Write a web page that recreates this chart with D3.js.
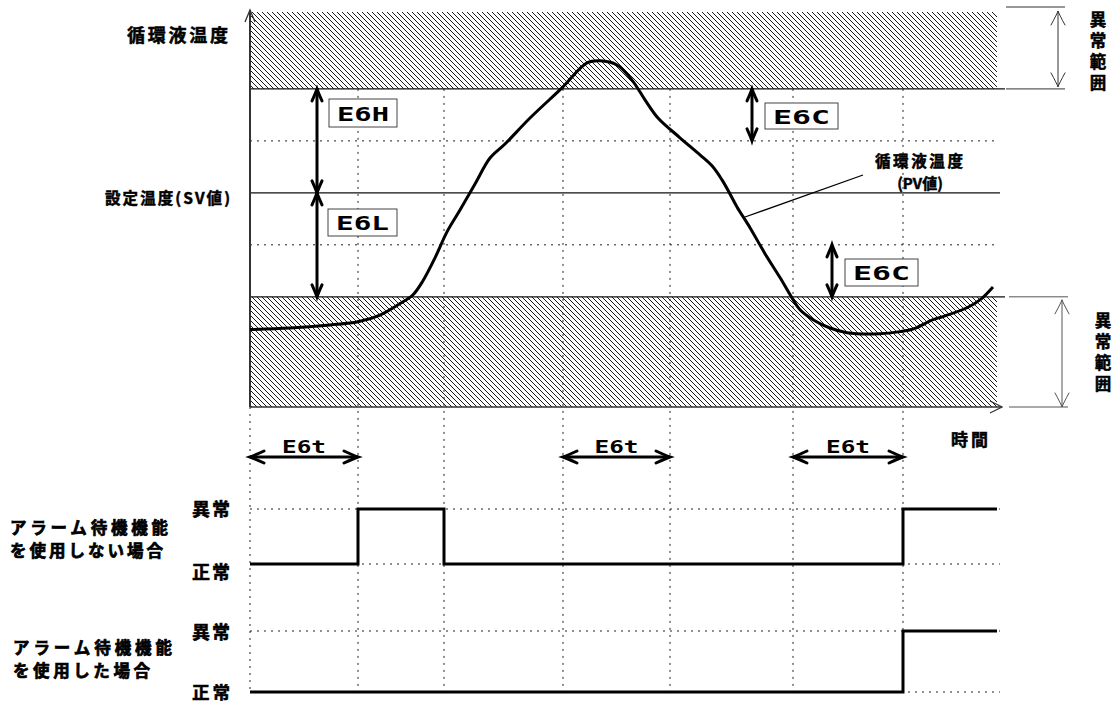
<!DOCTYPE html>
<html lang="ja">
<head>
<meta charset="utf-8">
<script src="https://cdn.jsdelivr.net/npm/d3@7/dist/d3.min.js"></script>
<style>
  html, body { margin: 0; padding: 0; background: #fff; }
  svg { display: block; }
  .jp { font-family: "Noto Sans CJK JP", "Noto Sans", sans-serif; font-weight: 700; fill: #000; stroke: #000; stroke-width: 0.5px; }
  .seg { font-family: "DejaVu Sans Mono", "Liberation Mono", monospace; font-weight: 700; fill: #000; }
</style>
</head>
<body>
<svg id="chart" width="1117" height="704"></svg>
<script>
// ---- temperature levels (°C) ----
const tempRange = [20.88, 28.48];          // bottom / top of the temperature axis
const setValue = 25;                        // SV
const upperLimit = 27;                      // SV + E6H
const lowerLimit = 23;                      // SV - E6L
const recoverLevels = [26, 24];             // E6C hysteresis levels

// ---- time axis (s) ----
const timeRange = [0, 750];
const timeEnd = 747;
const timeGrid = [0, 108, 194, 313, 420, 543, 653];
const standbyWindows = [[0, 108], [313, 420], [543, 653]];   // E6t

// ---- circulating fluid temperature (PV) ----
const pvTime = [0, 40, 80, 108, 130, 150, 163, 173, 185, 197, 210, 225, 240, 255, 280, 312,
  337, 350, 367, 382, 395, 408, 430, 450, 462, 472, 480, 487, 500, 515, 530, 542, 550, 563,
  580, 597, 630, 650, 663, 683, 693, 717, 730, 743];
const pvTemp = [22.37, 22.40, 22.46, 22.52, 22.65, 22.87, 23.04, 23.31, 23.75, 24.25, 24.67,
  25.17, 25.67, 25.94, 26.44, 27.02, 27.50, 27.54, 27.46, 27.17, 26.79, 26.44, 26.06, 25.73,
  25.52, 25.25, 24.98, 24.73, 24.33, 23.83, 23.37, 22.98, 22.75, 22.56, 22.40, 22.31, 22.29,
  22.33, 22.38, 22.56, 22.62, 22.79, 22.94, 23.19];

// ---- alarm output (0 = 正常, 1 = 異常) ----
const alarmNoStandbyTime = [0, 108, 194, 653];
const alarmNoStandbyState = [0, 1, 0, 1];
const alarmStandbyTime = [0, 653];
const alarmStandbyState = [0, 1];

const svg = d3.select("#chart");
const x = d3.scaleLinear().domain(timeRange).range([250, 1000]);
const y = d3.scaleLinear().domain(tempRange).range([407, 12]);

// ---- hatch pattern for the abnormal ranges ----
const defs = svg.append("defs");
defs.append("pattern")
  .attr("id", "hatch").attr("patternUnits", "userSpaceOnUse")
  .attr("width", 5).attr("height", 5)
  .append("path")
  .attr("d", "M0,0 L5,5 M-1,4 L1,6 M4,-1 L6,1")
  .attr("stroke", "#000").attr("stroke-width", 0.9);

const xEnd = x(timeEnd);
svg.append("rect").attr("x", x(0)).attr("y", y(tempRange[1]))
  .attr("width", xEnd - x(0)).attr("height", y(upperLimit) - y(tempRange[1]))
  .attr("fill", "url(#hatch)");
svg.append("rect").attr("x", x(0)).attr("y", y(lowerLimit))
  .attr("width", xEnd - x(0)).attr("height", y(tempRange[0]) - y(lowerLimit))
  .attr("fill", "url(#hatch)");

const dotted = "2,5";

// ---- vertical time grid ----
const rowY = { r1hi: 509, r1lo: 564, r2hi: 631, r2lo: 692 };
svg.append("g").selectAll("line").data(timeGrid.slice(1)).join("line")
  .attr("x1", d => x(d)).attr("x2", d => x(d))
  .attr("y1", y(upperLimit)).attr("y2", rowY.r2lo)
  .attr("stroke", "#222").attr("stroke-width", 1).attr("stroke-dasharray", dotted);
svg.append("line").attr("x1", x(0)).attr("x2", x(0))
  .attr("y1", y(tempRange[0])).attr("y2", rowY.r2lo)
  .attr("stroke", "#222").attr("stroke-width", 1).attr("stroke-dasharray", dotted);

// ---- horizontal temperature levels ----
svg.append("g").selectAll("line").data(recoverLevels).join("line")
  .attr("x1", x(0)).attr("x2", xEnd)
  .attr("y1", d => y(d)).attr("y2", d => y(d))
  .attr("stroke", "#222").attr("stroke-width", 1).attr("stroke-dasharray", dotted);
svg.append("g").selectAll("line").data([upperLimit, setValue, lowerLimit]).join("line")
  .attr("x1", x(0)).attr("x2", d => d === setValue ? x(timeEnd + 3) : x(timeEnd + 8))
  .attr("y1", d => y(d)).attr("y2", d => y(d))
  .attr("stroke", "#111").attr("stroke-width", 1.2);

// ---- axes ----
const axisColor = "#333";
svg.append("line").attr("x1", x(0)).attr("x2", x(0)).attr("y1", y(tempRange[0])).attr("y2", 10)
  .attr("stroke", axisColor).attr("stroke-width", 2);
svg.append("path").attr("d", `M${x(0) - 5},22 L${x(0)},10 L${x(0) + 5},22`)
  .attr("fill", "none").attr("stroke", axisColor).attr("stroke-width", 1.3);
svg.append("line").attr("x1", x(0)).attr("x2", 1002).attr("y1", y(tempRange[0])).attr("y2", y(tempRange[0]))
  .attr("stroke", axisColor).attr("stroke-width", 1.5);
svg.append("path").attr("d", `M990,${y(tempRange[0]) - 6} L1002,${y(tempRange[0])} L990,${y(tempRange[0]) + 6}`)
  .attr("fill", "none").attr("stroke", axisColor).attr("stroke-width", 1.3);

// ---- double arrow helpers ----
function vArrow(g, cx, y1, y2, w, lat, len, color) {
  g.append("line").attr("x1", cx).attr("x2", cx).attr("y1", y1).attr("y2", y2)
    .attr("stroke", color).attr("stroke-width", w);
  g.append("path").attr("d",
      `M${cx - lat},${y1 + len} Q${cx - 1},${y1 + 3} ${cx},${y1} Q${cx + 1},${y1 + 3} ${cx + lat},${y1 + len}` +
      `M${cx - lat},${y2 - len} Q${cx - 1},${y2 - 3} ${cx},${y2} Q${cx + 1},${y2 - 3} ${cx + lat},${y2 - len}`)
    .attr("fill", "none").attr("stroke", color).attr("stroke-width", w).attr("stroke-linecap", "round");
}
function hArrow(g, x1, x2, cy, w, lat, len, color) {
  g.append("line").attr("x1", x1).attr("x2", x2).attr("y1", cy).attr("y2", cy)
    .attr("stroke", color).attr("stroke-width", w);
  g.append("path").attr("d",
      `M${x1 + len},${cy - lat} Q${x1 + 3},${cy - 1} ${x1},${cy} Q${x1 + 3},${cy + 1} ${x1 + len},${cy + lat}` +
      `M${x2 - len},${cy - lat} Q${x2 - 3},${cy - 1} ${x2},${cy} Q${x2 - 3},${cy + 1} ${x2 - len},${cy + lat}`)
    .attr("fill", "none").attr("stroke", color).attr("stroke-width", w).attr("stroke-linecap", "round");
}
function boxLabel(g, bx, by, bw, bh, text) {
  g.append("rect").attr("x", bx).attr("y", by).attr("width", bw).attr("height", bh)
    .attr("fill", "#fff").attr("stroke", "#444").attr("stroke-width", 1);
  g.append("text").attr("class", "seg").attr("x", bx + 8).attr("y", by + bh / 2 + 7.5)
    .attr("font-size", 20).attr("textLength", bw - 16).attr("lengthAdjust", "spacingAndGlyphs")
    .text(text);
}

const ann = svg.append("g");
// E6H / E6L
vArrow(ann, 317, y(upperLimit), y(setValue), 3, 5, 12, "#000");
vArrow(ann, 317, y(setValue), y(lowerLimit), 3, 5, 12, "#000");
boxLabel(ann, 329, 99, 68, 28, "E6H");
boxLabel(ann, 328, 209, 69, 27, "E6L");
// E6C
vArrow(ann, 752, y(upperLimit), y(recoverLevels[0]), 3, 5, 12, "#000");
vArrow(ann, 832, y(recoverLevels[1]), y(lowerLimit), 3, 5, 12, "#000");
boxLabel(ann, 765, 103, 73, 26, "E6C");
boxLabel(ann, 845, 259, 73, 27, "E6C");

// ---- abnormal range brackets on the right ----
const rng = svg.append("g");
rng.append("line").attr("x1", 1006).attr("x2", 1065).attr("y1", 7).attr("y2", 7).attr("stroke", "#333");
rng.append("line").attr("x1", 1006).attr("x2", 1065).attr("y1", y(upperLimit)).attr("y2", y(upperLimit)).attr("stroke", "#333");
vArrow(rng, 1058, 11, y(upperLimit) - 2, 1, 7, 14, "#333");
rng.append("line").attr("x1", 1009).attr("x2", 1068).attr("y1", y(lowerLimit)).attr("y2", y(lowerLimit)).attr("stroke", "#555");
rng.append("line").attr("x1", 1009).attr("x2", 1068).attr("y1", y(tempRange[0])).attr("y2", y(tempRange[0])).attr("stroke", "#555");
vArrow(rng, 1062, y(lowerLimit) + 3, y(tempRange[0]), 1, 7, 14, "#555");

// ---- PV curve ----
const pv = pvTime.map((t, i) => [t, pvTemp[i]]);
svg.append("path").datum(pv)
  .attr("d", d3.line().x(d => x(d[0])).y(d => y(d[1])).curve(d3.curveCatmullRom.alpha(0.5)))
  .attr("fill", "none").attr("stroke", "#000").attr("stroke-width", 3).attr("stroke-linejoin", "round");

// leader line to the PV label
svg.append("line").attr("x1", 745).attr("y1", 217).attr("x2", 863).attr("y2", 175)
  .attr("stroke", "#000").attr("stroke-width", 1.3);

// ---- E6t standby windows ----
const tw = svg.append("g");
standbyWindows.forEach(([a, b]) => {
  hArrow(tw, x(a), x(b), 457, 3, 6, 14, "#000");
  tw.append("text").attr("class", "seg").attr("x", (x(a) + x(b)) / 2 - 22).attr("y", 453)
    .attr("font-size", 17).attr("textLength", 44).attr("lengthAdjust", "spacingAndGlyphs").text("E6t");
});

// ---- alarm output rows ----
function alarmRow(times, states, yHi, yLo) {
  const g = svg.append("g");
  [yHi, yLo].forEach(yy => g.append("line").attr("x1", x(0)).attr("x2", x(timeEnd + 3))
    .attr("y1", yy).attr("y2", yy).attr("stroke", "#222").attr("stroke-dasharray", dotted));
  const pts = times.map((t, i) => [t, states[i]]);
  pts.push([timeEnd, states[states.length - 1]]);
  g.append("path").datum(pts)
    .attr("d", d3.line().x(d => x(d[0])).y(d => d[1] ? yHi : yLo).curve(d3.curveStepAfter))
    .attr("fill", "none").attr("stroke", "#000").attr("stroke-width", 3);
}
alarmRow(alarmNoStandbyTime, alarmNoStandbyState, rowY.r1hi, rowY.r1lo);
alarmRow(alarmStandbyTime, alarmStandbyState, rowY.r2hi, rowY.r2lo);

// ---- text ----
function label(txt, xx, yy, size, len) {
  const t = svg.append("text").attr("class", "jp").attr("x", xx).attr("y", yy)
    .attr("font-size", size).text(txt);
  if (len) t.attr("textLength", len).attr("lengthAdjust", "spacing");
  return t;
}
label("循環液温度", 127, 42, 18, 101);
label("設定温度(SV値)", 105, 204, 15.5, 125);
label("循環液温度", 875, 167, 15.5, 88);
label("(PV値)", 920, 189, 15).attr("text-anchor", "middle");
label("時間", 951, 446, 17, 37);

label("アラーム待機機能", 10, 534, 16.5, 158).style("stroke-width", "0.7px");
label("を使用しない場合", 10, 557, 16.5, 153).style("stroke-width", "0.7px");
label("アラーム待機機能", 13, 654, 16.5, 159).style("stroke-width", "0.7px");
label("を使用した場合", 13, 677, 16.5, 137).style("stroke-width", "0.7px");
label("異常", 192, 516, 18, 38);
label("正常", 192, 579, 18, 38);
label("異常", 192, 639, 18, 38);
label("正常", 192, 699, 17.5, 38);

// vertical caption for the abnormal ranges
function vertical(txt, cx, yTop) {
  svg.append("text").attr("class", "jp").attr("font-size", 16.5)
    .attr("x", cx).attr("y", yTop)
    .style("writing-mode", "vertical-rl")
    .attr("letter-spacing", 4.5)
    .text(txt);
}
vertical("異常範囲", 1098, 11);
vertical("異常範囲", 1103, 312);
</script>
</body>
</html>
